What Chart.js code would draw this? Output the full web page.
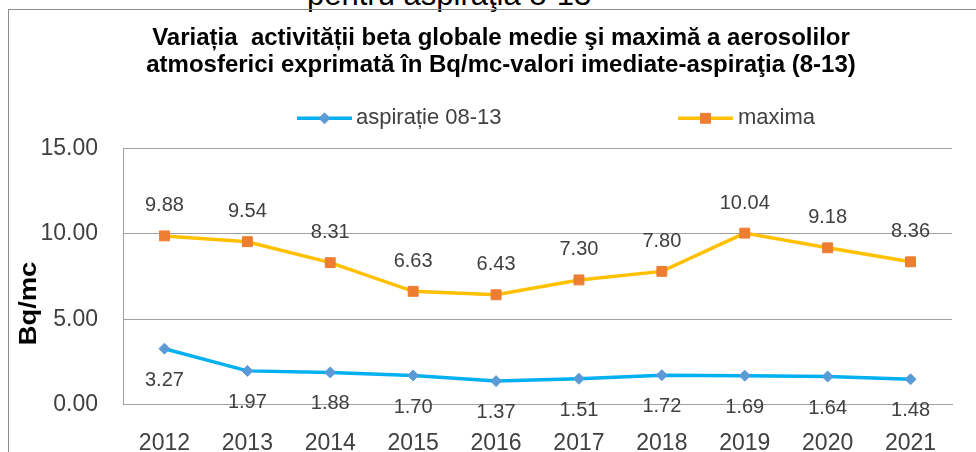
<!DOCTYPE html>
<html>
<head>
<meta charset="utf-8">
<script src="https://cdn.jsdelivr.net/npm/chart.js@4.4.1/dist/chart.umd.min.js"></script>
<style>
    html, body { margin: 0; padding: 0; width: 976px; height: 452px; overflow: hidden; background: #fff; }
    #cutTitle { position: absolute; left: 307px; top: -21px; font: 31px "Liberation Sans", Arial, sans-serif; line-height: 31px; color: #000; white-space: nowrap; }
    #frame { position: absolute; left: 8px; top: 9px; width: 1000px; height: 500px; border: 1px solid #8c8c8c; }
    #wrap { position: absolute; left: 10px; top: 10px; width: 982px; height: 442px; }
</style>
</head>
<body>
<div id="cutTitle">pentru aspiraţia 8-13</div>
<div id="frame"></div>
<div id="wrap"><canvas id="betaChart"></canvas></div>
<script>
// chart values
const years = ['2012', '2013', '2014', '2015', '2016', '2017', '2018', '2019', '2020', '2021'];
const aspiratieValues = [3.27, 1.97, 1.88, 1.70, 1.37, 1.51, 1.72, 1.69, 1.64, 1.48];
const maximaValues = [9.88, 9.54, 8.31, 6.63, 6.43, 7.30, 7.80, 10.04, 9.18, 8.36];
const yTickValues = [0, 5, 10, 15];
const seriesNames = ['aspirație 08-13', 'maxima'];

const FONT = '"Liberation Sans", Arial, sans-serif';

// value labels next to each point (blue below, orange above)
const pointValuesPlugin = {
    id: 'pointValues',
    afterDatasetsDraw(chart, args, opts) {
        const ctx = chart.ctx;
        ctx.save();
        ctx.font = '20px ' + FONT;
        ctx.fillStyle = '#404040';
        ctx.textAlign = 'center';
        ctx.textBaseline = 'middle';
        chart.data.datasets.forEach(function(ds, i) {
            const meta = chart.getDatasetMeta(i);
            meta.data.forEach(function(pt, j) {
                ctx.fillText(ds.data[j].toFixed(2), pt.x, pt.y + opts.offsets[i]);
            });
        });
        ctx.restore();
    }
};

// Excel style legend (line + marker) and the y axis title
const excelLegendPlugin = {
    id: 'excelLegend',
    afterDraw(chart, args, opts) {
        const ctx = chart.ctx;
        ctx.save();
        opts.items.forEach(function(item, i) {
            const ds = chart.data.datasets[i];
            ctx.strokeStyle = ds.borderColor;
            ctx.lineWidth = ds.borderWidth;
            ctx.beginPath();
            ctx.moveTo(item.x1, opts.y);
            ctx.lineTo(item.x2, opts.y);
            ctx.stroke();

            ctx.fillStyle = ds.pointBackgroundColor;
            ctx.strokeStyle = ds.pointBorderColor;
            ctx.lineWidth = ds.pointBorderWidth;
            Chart.helpers.drawPoint(ctx, {
                pointStyle: ds.pointStyle,
                radius: ds.pointRadius,
                rotation: 0,
                borderWidth: ds.pointBorderWidth
            }, (item.x1 + item.x2) / 2, opts.y);

            ctx.fillStyle = '#404040';
            ctx.font = '22px ' + FONT;
            ctx.textAlign = 'left';
            ctx.textBaseline = 'middle';
            ctx.fillText(ds.label, item.textX, opts.y);
        });

        // Bq/mc
        ctx.translate(opts.axisTitle.x, opts.axisTitle.y);
        ctx.rotate(-Math.PI / 2);
        ctx.scale(1.14, 1);
        ctx.font = 'bold 24px ' + FONT;
        ctx.fillStyle = '#000';
        ctx.textAlign = 'center';
        ctx.textBaseline = 'middle';
        ctx.fillText(opts.axisTitle.text, 0, 0);
        ctx.restore();
    }
};

function initializeBetaChart() {
    const betaCtx = document.getElementById('betaChart');
    if (!betaCtx) return;

    new Chart(betaCtx, {
        type: 'line',
        data: {
            labels: years,
            datasets: [{
                label: seriesNames[0],
                data: aspiratieValues,
                borderColor: '#00B0F0',
                borderWidth: 3.5,
                pointStyle: 'rectRot',
                pointRadius: 5.5,
                pointBackgroundColor: '#5B9BD5',
                pointBorderColor: '#5B9BD5',
                pointBorderWidth: 1,
                tension: 0
            }, {
                label: seriesNames[1],
                data: maximaValues,
                borderColor: '#FFC000',
                borderWidth: 3.5,
                pointStyle: 'rect',
                pointRadius: 7,
                pointBackgroundColor: '#ED7D31',
                pointBorderColor: '#ED7D31',
                pointBorderWidth: 1,
                tension: 0
            }]
        },
        options: {
            responsive: true,
            maintainAspectRatio: false,
            animation: false,
            layout: { padding: 0 },
            scales: {
                x: {
                    offset: true,
                    grid: { display: false },
                    border: { display: true, color: '#a0a0a0', width: 1 },
                    ticks: {
                        font: { family: FONT, size: 23 },
                        color: '#404040',
                        padding: 17,
                        maxRotation: 0,
                        autoSkip: false
                    },
                    afterFit: function(scale) { scale.height = 47.5; }
                },
                y: {
                    min: 0,
                    max: 15,
                    afterBuildTicks: function(scale) {
                        scale.ticks = yTickValues.map(function(v) { return { value: v }; });
                    },
                    grid: { color: '#a0a0a0', drawTicks: false },
                    border: { display: true, color: '#a0a0a0', width: 1 },
                    ticks: {
                        font: { family: FONT, size: 23 },
                        color: '#404040',
                        padding: 25,
                        callback: function(v) { return Number(v).toFixed(2); }
                    },
                    afterFit: function(scale) { scale.width = 113; }
                },
                y2: {
                    position: 'right',
                    grid: { display: false },
                    border: { display: false },
                    ticks: { display: false },
                    afterFit: function(scale) { scale.width = 40; }
                }
            },
            plugins: {
                legend: { display: false },
                tooltip: { enabled: false },
                title: {
                    display: true,
                    text: [
                        'Variația  activității beta globale medie şi maximă a aerosolilor',
                        'atmosferici exprimată în Bq/mc-valori imediate-aspiraţia (8-13)'
                    ],
                    color: '#000',
                    font: { family: FONT, size: 24, weight: 'bold', lineHeight: 1.125 },
                    padding: { top: 14.5, bottom: 70 }
                },
                pointValues: { offsets: [31.5, -30] },
                excelLegend: {
                    y: 108.3,
                    items: [
                        { x1: 287, x2: 342, textX: 346 },
                        { x1: 668, x2: 723, textX: 728 }
                    ],
                    axisTitle: { text: 'Bq/mc', x: 19, y: 293.5 }
                }
            }
        },
        plugins: [pointValuesPlugin, excelLegendPlugin]
    });
}

document.addEventListener('DOMContentLoaded', function() {
    initializeBetaChart();
});
</script>
</body>
</html>
